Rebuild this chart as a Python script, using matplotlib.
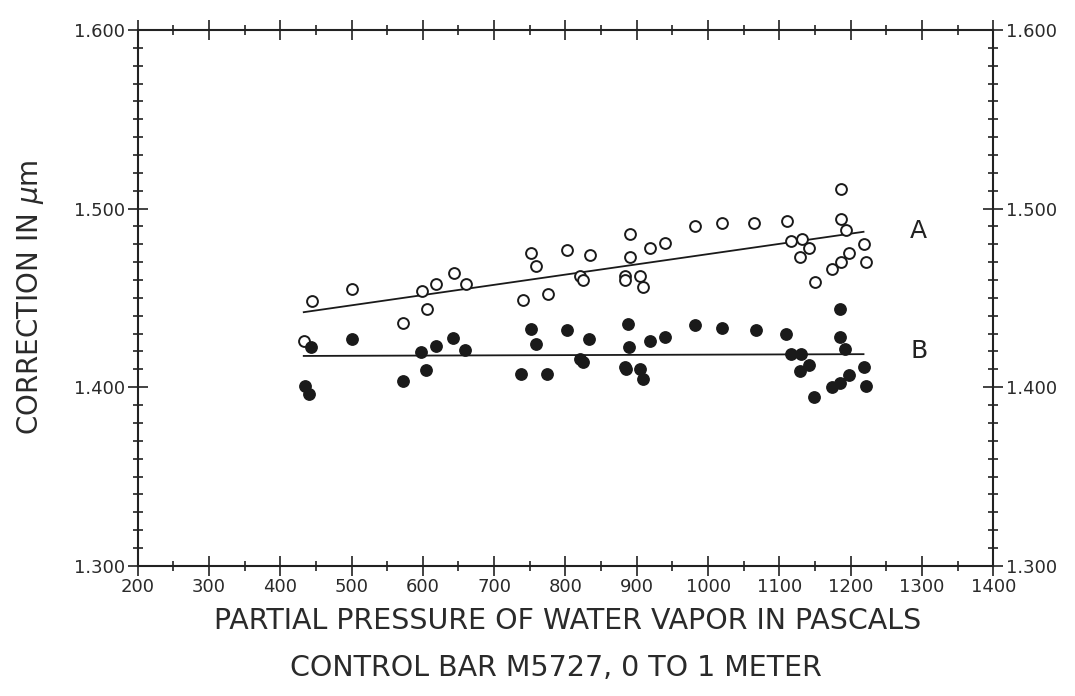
import numpy as np
import matplotlib
matplotlib.use('Agg')
import matplotlib.pyplot as plt
from matplotlib.ticker import MultipleLocator, FormatStrFormatter

# curve A (open circles)
a_pressure = [434, 445, 500, 572, 599, 606, 619, 644, 660, 740, 751, 758, 775, 802,
              820, 824, 834, 890, 890, 884, 884, 905, 909, 918, 940, 982, 1020, 1065,
              1110, 1187, 1186, 1193, 1117, 1132, 1142, 1129, 1150, 1174, 1186, 1197,
              1219, 1221]
a_correction = [1.426, 1.448, 1.455, 1.436, 1.454, 1.444, 1.458, 1.464, 1.458, 1.449,
                1.475, 1.468, 1.452, 1.477, 1.462, 1.460, 1.474, 1.486, 1.473, 1.462,
                1.460, 1.462, 1.456, 1.478, 1.481, 1.490, 1.492, 1.492, 1.493, 1.511,
                1.494, 1.488, 1.482, 1.483, 1.478, 1.473, 1.459, 1.466, 1.470, 1.475,
                1.480, 1.470]

# curve B (filled circles)
b_pressure = [443, 435, 441, 500, 572, 598, 605, 618, 643, 659, 738, 751, 758, 774,
              802, 820, 825, 833, 888, 889, 883, 885, 904, 909, 919, 940, 982, 1020,
              1067, 1109, 1185, 1185, 1192, 1117, 1131, 1141, 1129, 1149, 1174, 1185,
              1198, 1218, 1221]
b_correction = [1.4225, 1.4006, 1.3964, 1.4269, 1.4036, 1.4199, 1.4097, 1.4228, 1.4277,
                1.4207, 1.4075, 1.4328, 1.4243, 1.4073, 1.4320, 1.4156, 1.4142, 1.4268,
                1.4354, 1.4226, 1.4115, 1.4102, 1.4104, 1.4044, 1.4258, 1.4281, 1.4349,
                1.4334, 1.4318, 1.4298, 1.4438, 1.4283, 1.4212, 1.4188, 1.4187, 1.4126,
                1.4089, 1.3945, 1.4000, 1.4024, 1.4071, 1.4111, 1.4004]

# fitted lines (end points)
fit_x = [433, 1218]
fit_a = [1.442, 1.487]
fit_b = [1.4175, 1.4185]

plt.rcParams['font.family'] = 'DejaVu Sans'
fig = plt.figure(figsize=(10.75, 6.96), dpi=100)
ax = fig.add_axes([0.128, 0.187, 0.796, 0.770])

ax.plot(fit_x, fit_a, color='#1a1a1a', lw=1.3)
ax.plot(fit_x, fit_b, color='#1a1a1a', lw=1.3)
ax.plot(a_pressure, a_correction, 'o', ms=7.8, mfc='white', mec='#1a1a1a', mew=1.4)
ax.plot(b_pressure, b_correction, 'o', ms=8.2, mfc='#1a1a1a', mec='#1a1a1a', mew=1)

ax.text(1295, 1.4876, 'A', fontsize=18, color='#222222', va='center', ha='center')
ax.text(1296, 1.4201, 'B', fontsize=18, color='#222222', va='center', ha='center')

ax.set_xlim(200, 1400)
ax.set_ylim(1.3, 1.6)
ax.xaxis.set_major_locator(MultipleLocator(100))
ax.xaxis.set_minor_locator(MultipleLocator(50))
ax.yaxis.set_major_locator(MultipleLocator(0.1))
ax.yaxis.set_minor_locator(MultipleLocator(0.01))
ax.yaxis.set_major_formatter(FormatStrFormatter('%.3f'))

ax.tick_params(which='both', direction='inout', top=True, right=True,
               labelright=True, color='#222222', labelsize=13, labelcolor='#2a2a2a')
ax.tick_params(which='major', length=14, width=1.2, pad=2)
ax.tick_params(which='minor', length=7, width=1.2)
for s in ax.spines.values():
    s.set_linewidth(1.5)
    s.set_color('#222222')

fig.text(0.028, 0.573, 'CORRECTION IN $\\mu$m', rotation=90, fontsize=20,
         color='#2a2a2a', ha='center', va='center')
fig.text(0.528, 0.108, 'PARTIAL PRESSURE OF WATER VAPOR IN PASCALS', fontsize=20.5,
         color='#2a2a2a', ha='center', va='center')
fig.text(0.517, 0.04, 'CONTROL BAR M5727, 0 TO 1 METER', fontsize=20.5,
         color='#2a2a2a', ha='center', va='center')

plt.savefig('out.png', dpi=100)
